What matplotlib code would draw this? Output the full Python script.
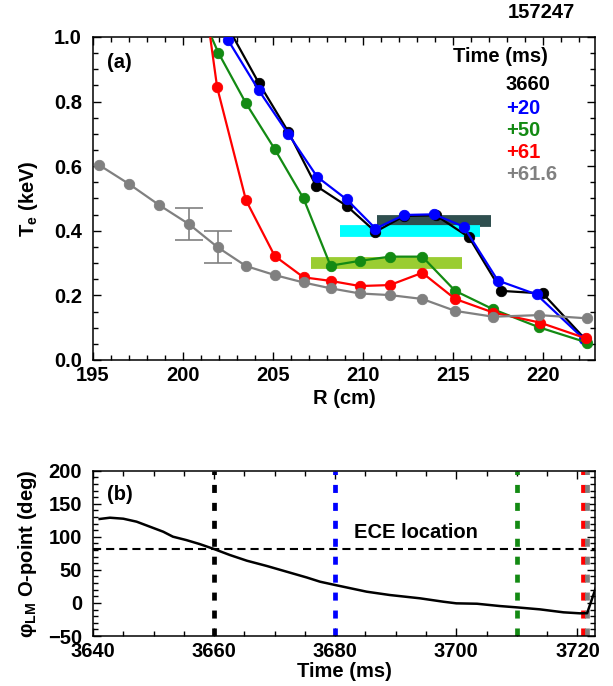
import matplotlib
matplotlib.use("Agg")
import matplotlib.pyplot as plt
from matplotlib.ticker import MultipleLocator, FormatStrFormatter

plt.rcParams['font.family'] = ['Liberation Sans', 'DejaVu Sans']
plt.rcParams['font.weight'] = 'bold'
plt.rcParams['mathtext.fontset'] = 'custom'
plt.rcParams['mathtext.rm'] = 'Liberation Sans:bold'
plt.rcParams['mathtext.bf'] = 'Liberation Sans:bold'
plt.rcParams['mathtext.it'] = 'Liberation Sans:bold:italic'

FS = 14.5

# ---- Te profiles (R in cm, Te in keV) ----
r_3660 = [202.4, 204.2, 205.85, 207.4, 209.1, 210.7, 212.3, 214.05, 215.9, 217.7, 220.0, 222.4]
te_3660 = [1.04, 0.859, 0.707, 0.539, 0.477, 0.397, 0.446, 0.448, 0.380, 0.214, 0.206, 0.062]

r_p20 = [202.5, 204.2, 205.85, 207.46, 209.1, 210.7, 212.3, 213.96, 215.6, 217.5, 219.65, 222.3]
te_p20 = [0.991, 0.836, 0.700, 0.567, 0.497, 0.407, 0.449, 0.451, 0.413, 0.246, 0.203, 0.064]

r_p50 = [200.4, 201.96, 203.5, 205.1, 206.7, 208.2, 209.83, 211.5, 213.3, 215.13, 217.24, 219.8, 222.46]
te_p50 = [1.15, 0.952, 0.795, 0.653, 0.500, 0.292, 0.307, 0.320, 0.320, 0.214, 0.157, 0.101, 0.054]

r_p61 = [200.35, 201.9, 203.5, 205.1, 206.7, 208.2, 209.83, 211.5, 213.3, 215.13, 217.24, 219.83, 222.4]
te_p61 = [1.47, 0.844, 0.495, 0.322, 0.256, 0.245, 0.229, 0.232, 0.270, 0.189, 0.147, 0.116, 0.067]

r_p616 = [195.33, 197.0, 198.67, 200.35, 201.93, 203.5, 205.1, 206.7, 208.2, 209.83, 211.5, 213.3, 215.13, 217.24, 219.8, 222.46]
te_p616 = [0.604, 0.545, 0.480, 0.420, 0.349, 0.291, 0.263, 0.240, 0.222, 0.206, 0.201, 0.189, 0.152, 0.134, 0.139, 0.129]

# uncertainty shown on two of the +61.6 points
err_r = [200.35, 201.93]
err_te = [0.420, 0.349]
err_size = [0.05, 0.05]

# ECE-averaged bands: (R start, R end, Te level)
band_r0 = [210.8, 208.7, 207.1]
band_r1 = [217.1, 216.5, 215.5]
band_te = [0.430, 0.399, 0.300]
band_colors = ['#2F4F4F', '#00FFFF', '#9ACD32']

series = [
    (r_3660, te_3660, 'black', '3660'),
    (r_p20, te_p20, '#0000FF', '+20'),
    (r_p50, te_p50, '#138A13', '+50'),
    (r_p61, te_p61, '#FF0000', '+61'),
    (r_p616, te_p616, '#808080', '+61.6'),
]

# ---- Island O-point phase vs time ----
t_phase = [3641.1, 3642.8, 3645.0, 3647.2, 3649.4, 3651.6, 3653.2, 3655.4, 3657.6, 3660.0,
           3662.6, 3665.4, 3668.7, 3672.0, 3675.3, 3677.5, 3680.0, 3685.2, 3689.0, 3694.0,
           3697.9, 3700.0, 3703.4, 3707.2, 3710.0, 3713.8, 3717.7, 3720.4, 3721.6, 3723.0]
phi_phase = [127.0, 128.9, 127.4, 122.9, 115.3, 107.7, 100.2, 95.1, 89.1, 81.5,
             72.5, 63.9, 55.9, 47.2, 38.5, 32.1, 27.1, 17.0, 12.0, 7.0,
             1.8, -0.6, -1.2, -4.7, -6.7, -9.7, -14.2, -15.7, -15.5, 22.0]
ece_phase = 81.0
t_marks = [3660.0, 3680.0, 3710.0, 3721.0, 3721.6]
mark_colors = ['black', '#0000FF', '#138A13', '#FF0000', '#808080']

W, H = 613, 686
fig = plt.figure(figsize=(W / 100, H / 100), dpi=100)


def fx(x):
    return x / W


def fy(y):
    return 1 - y / H


ax1 = fig.add_axes([fx(93), fy(360), fx(595) - fx(93), fy(37) - fy(360)])
ax2 = fig.add_axes([fx(93), fy(636), fx(595) - fx(93), fy(470.7) - fy(636)])

for ax in (ax1, ax2):
    for s in ax.spines.values():
        s.set_linewidth(1.1)
    ax.tick_params(which='both', direction='in', top=True, right=True, width=1.0,
                   labelsize=FS)
    ax.tick_params(which='major', length=6)
    ax.tick_params(which='minor', length=3.5)
    ax.tick_params(axis='x', pad=4)
    ax.tick_params(axis='y', pad=8)

# bands
for r0, r1, te, c in zip(band_r0, band_r1, band_te, band_colors):
    ax1.plot([r0, r1], [te, te], color=c, lw=8.5, solid_capstyle='butt', zorder=1)

for r, te, c, lab in series:
    ax1.plot(r, te, '-o', color=c, lw=1.6, ms=7.5, mec=c, mew=0.6, zorder=3)

ax1.errorbar(err_r, err_te, yerr=err_size, fmt='none', ecolor='#808080',
             elinewidth=1.2, capsize=10, capthick=1.2, zorder=2)

ax1.set_xlim(195, 222.9)
ax1.set_ylim(0, 1.0)
ax1.xaxis.set_major_locator(MultipleLocator(5))
ax1.xaxis.set_minor_locator(MultipleLocator(1))
ax1.yaxis.set_major_locator(MultipleLocator(0.2))
ax1.yaxis.set_minor_locator(MultipleLocator(0.05))
ax1.yaxis.set_major_formatter(FormatStrFormatter('%.1f'))
ax1.set_xlabel('R (cm)', fontsize=FS, fontweight='bold', labelpad=3)
ax1.set_ylabel(r'T$_\mathbf{e}$ (keV)', fontsize=FS, fontweight='bold', labelpad=10)

fig.text(fx(107), fy(62), '(a)', fontsize=FS, fontweight='bold', va='center', ha='left')
fig.text(fx(541), fy(13), '157247', fontsize=FS, fontweight='bold', va='center', ha='center')
fig.text(fx(452.7), fy(56), 'Time (ms)', fontsize=FS, fontweight='bold', va='center', ha='left')
for (r, te, c, lab), yy in zip(series, [85, 108, 131, 153, 175]):
    fig.text(fx(505.7), fy(yy), lab, color=c, fontsize=FS, fontweight='bold',
             va='center', ha='left')

# phase panel
ax2.plot(t_phase, phi_phase, color='black', lw=1.8, zorder=3)
ax2.axhline(ece_phase, color='black', lw=1.5, linestyle=(0, (3.9, 2.4)), zorder=2)
for tm, c in zip(t_marks, mark_colors):
    ax2.vlines(tm, -50, 200, colors=c, lw=3.4, linestyles=[(0, (1.7, 2.1))], zorder=2)

ax2.set_xlim(3640, 3722.9)
ax2.set_ylim(-50, 200)
ax2.xaxis.set_major_locator(MultipleLocator(20))
ax2.xaxis.set_minor_locator(MultipleLocator(5))
ax2.yaxis.set_major_locator(MultipleLocator(50))
ax2.yaxis.set_minor_locator(MultipleLocator(10))
ax2.set_xlabel('Time (ms)', fontsize=FS, fontweight='bold', labelpad=1)
ax2.set_ylabel(r'φ$_\mathbf{LM}$ O-point (deg)', fontsize=FS, fontweight='bold', labelpad=6)

fig.text(fx(107), fy(495), '(b)', fontsize=FS, fontweight='bold', va='center', ha='left')
fig.text(fx(354), fy(533), 'ECE location', fontsize=FS, fontweight='bold', va='center', ha='left')

fig.savefig('out.png', dpi=100)
